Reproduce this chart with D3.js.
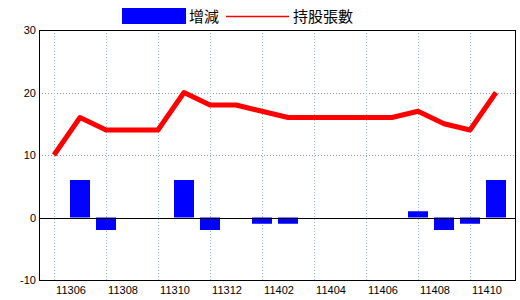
<!DOCTYPE html>
<html lang="zh-Hant">
<head>
<meta charset="UTF-8">
<title>增減 / 持股張數</title>
<script src="https://d3js.org/d3.v7.min.js"></script>
<style>
    body { margin: 0; background: #fff; }
    .tick-label { font-family: 'Liberation Sans', Arial, sans-serif; font-size: 11px; fill: #000; }
    .legend { font-family: 'Noto Sans CJK TC', sans-serif; font-size: 15px; fill: #000; }
</style>
</head>
<body>
<svg id="chart" width="520" height="300"></svg>
<script>
    // months (ROC yyymm)
    const months = ["11305","11306","11307","11308","11309","11310","11311","11312","11401",
                    "11402","11403","11404","11405","11406","11407","11408","11409","11410"];
    const change = [0, 6, -2, 0, 0, 6, -2, 0, -1, -1, 0, 0, 0, 0, 1, -2, -1, 6];
    const holdings = [10, 16, 14, 14, 14, 20, 18, 18, 17, 16, 16, 16, 16, 16, 17, 15, 14, 20];
    const yTicks = [-10, 0, 10, 20, 30];
    const xLabels = ["11306","11308","11310","11312","11402","11404","11406","11408","11410"];

    const svg = d3.select("#chart");
    const plot = { left: 39, right: 515, top: 30, bottom: 280 };

    const x = d3.scaleBand().domain(months).range([41, 509]);
    const cx = d => x(d) + x.bandwidth() / 2;
    const y = d3.scaleLinear().domain([-10, 30]).range([plot.bottom, plot.top]);

    // horizontal grid
    svg.append("g").selectAll("line")
        .data([10, 20])
        .join("line")
        .attr("x1", plot.left).attr("x2", plot.right)
        .attr("y1", d => Math.round(y(d)) + 0.5).attr("y2", d => Math.round(y(d)) + 0.5)
        .attr("stroke", "#999").attr("stroke-dasharray", "1,2");

    // vertical grid, every other month
    svg.append("g").selectAll("line")
        .data(months.filter((d, i) => i % 2 === 0))
        .join("line")
        .attr("x1", d => Math.round(cx(d)) + 0.5).attr("x2", d => Math.round(cx(d)) + 0.5)
        .attr("y1", plot.top).attr("y2", plot.bottom)
        .attr("stroke", "#9ab4c8").attr("stroke-dasharray", "1,2");

    // bars
    svg.append("g").selectAll("rect")
        .data(months.map((m, i) => ({ m, v: change[i] })).filter(d => d.v !== 0))
        .join("rect")
        .attr("x", d => cx(d.m) - 10)
        .attr("width", 20)
        .attr("y", d => y(Math.max(0, d.v)))
        .attr("height", d => Math.abs(y(d.v) - y(0)))
        .attr("fill", "#0000ff");

    // zero line
    svg.append("line")
        .attr("x1", plot.left).attr("x2", plot.right)
        .attr("y1", Math.round(y(0)) + 0.5).attr("y2", Math.round(y(0)) + 0.5)
        .attr("stroke", "#000");

    // holdings line
    const line = d3.line().x((d, i) => cx(months[i])).y(d => y(d));
    svg.append("path")
        .datum(holdings)
        .attr("d", line)
        .attr("fill", "none")
        .attr("stroke", "#ff0000")
        .attr("stroke-width", 5)
        .attr("stroke-linejoin", "round");

    // frame
    svg.append("rect")
        .attr("x", plot.left + 0.5).attr("y", plot.top + 0.5)
        .attr("width", plot.right - plot.left).attr("height", plot.bottom - plot.top)
        .attr("fill", "none").attr("stroke", "#000");

    // y labels
    svg.append("g").selectAll("text")
        .data(yTicks)
        .join("text")
        .attr("class", "tick-label")
        .attr("x", 36).attr("y", d => y(d) + 4)
        .attr("text-anchor", "end")
        .text(d => d);

    // x labels
    svg.append("g").selectAll("text")
        .data(xLabels)
        .join("text")
        .attr("class", "tick-label")
        .attr("x", d => cx(d) - 9).attr("y", 294)
        .attr("text-anchor", "middle")
        .text(d => d);

    // legend
    const lg = svg.append("g");
    lg.append("rect").attr("x", 122).attr("y", 8).attr("width", 64).attr("height", 16).attr("fill", "#0000ff");
    lg.append("text").attr("class", "legend").attr("x", 189).attr("y", 22).text("增減");
    lg.append("line").attr("x1", 226).attr("x2", 289).attr("y1", 16.5).attr("y2", 16.5)
        .attr("stroke", "#ff0000").attr("stroke-width", 1.5);
    lg.append("text").attr("class", "legend").attr("x", 293).attr("y", 22).text("持股張數");
</script>
</body>
</html>
